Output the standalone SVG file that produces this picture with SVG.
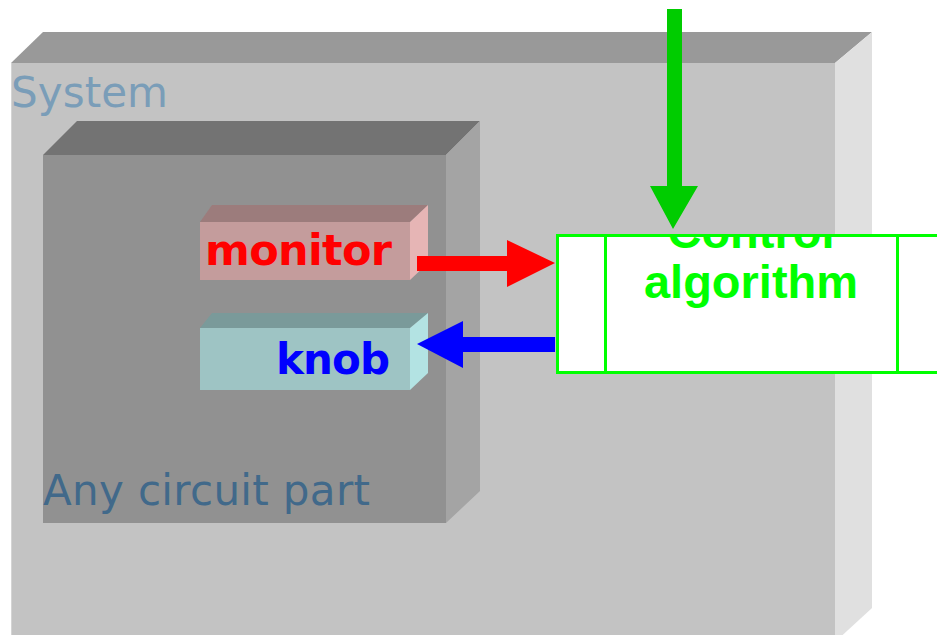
<svg xmlns="http://www.w3.org/2000/svg" width="937" height="635" viewBox="0 0 937 635">
<style>
.lbl{font-family:"DejaVu Sans","Liberation Sans",sans-serif;}
.bold{font-weight:bold;}
.ctl{font-family:"Liberation Sans",Arial,sans-serif;font-weight:bold;font-size:47px;fill:#00ff00;text-anchor:middle;}
</style>
<defs>
<clipPath id="ctlclip"><rect x="557" y="236" width="380" height="137"/></clipPath>
</defs>
<rect width="937" height="635" fill="#ffffff"/>
<g id="system">
<polygon points="11,63 43,32 872,32 835,63" fill="#999999"/>
<polygon points="835,63 872,32 872,608 835,642" fill="#e0e0e0"/>
<rect x="11" y="63" width="824" height="580" fill="#c3c3c3"/>
<line x1="11.5" y1="63" x2="11.5" y2="635" stroke="#d4d4d4" stroke-width="1"/>
<text class="lbl" x="11" y="107" font-size="42" textLength="157" fill="#7a9db8">System</text>
</g>
<g id="circuit">
<polygon points="43,155 77,121 480,121 446,155" fill="#737373"/>
<polygon points="446,155 480,121 480,491 446,523" fill="#a4a4a4"/>
<rect x="43" y="155" width="403" height="368" fill="#919191"/>
<text class="lbl" x="43" y="505" font-size="42" textLength="327" fill="#41698a">Any circuit part</text>
</g>
<g id="monitor">
<polygon points="200,222 212,205 428,205 410,222" fill="#9c7c7c"/>
<polygon points="410,222 428,205 428,263 410,280" fill="#e6b5b5"/>
<rect x="200" y="222" width="210" height="58" fill="#c49c9c"/>
<text class="lbl bold" x="205" y="265" font-size="43" textLength="187" fill="#ff0000">monitor</text>
</g>
<g id="knob">
<polygon points="200,328 212,313 428,313 410,328" fill="#7a9a9a"/>
<polygon points="410,328 428,313 428,373 410,390" fill="#b3e3e3"/>
<rect x="200" y="328" width="210" height="62" fill="#9ec4c4"/>
<text class="lbl bold" x="276" y="374" font-size="42" textLength="114" fill="#0000ff">knob</text>
</g>
<g id="connectors">
<polygon points="417,256 507,256 507,240 555,263 507,287 507,271 417,271" fill="#ff0000"/>
<polygon points="555,337 463,337 463,321 417,344 463,368 463,352 555,352" fill="#0000ff"/>
<polygon points="667,9 682,9 682,186 698,186 673,229 650,186 667,186" fill="#00cc00"/>
</g>
<g id="control">
<rect x="557.5" y="235.5" width="390" height="137" fill="#ffffff" stroke="#00ff00" stroke-width="3"/>
<line x1="605.5" y1="235" x2="605.5" y2="373" stroke="#00ff00" stroke-width="3"/>
<line x1="897.5" y1="235" x2="897.5" y2="373" stroke="#00ff00" stroke-width="3"/>
<g clip-path="url(#ctlclip)">
<text class="ctl" x="751" y="248">Control</text>
</g>
<text class="ctl" x="751" y="298">algorithm</text>
</g>
</svg>
